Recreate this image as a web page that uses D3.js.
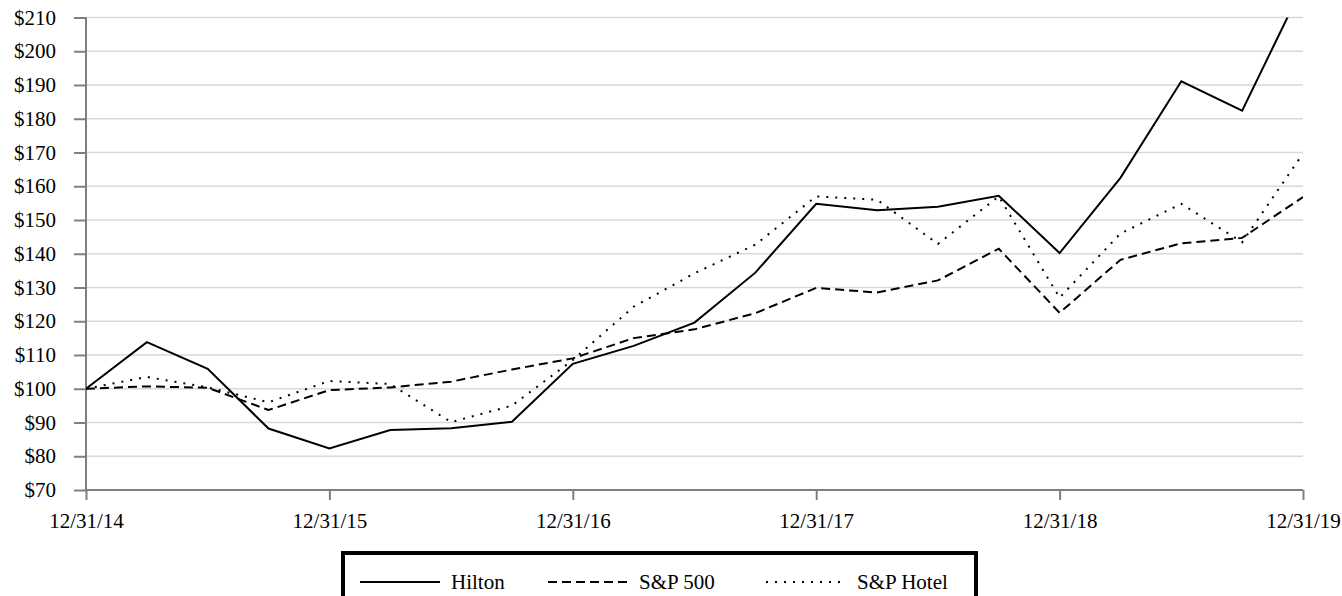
<!DOCTYPE html>
<html>
<head>
<meta charset="utf-8">
<script src="https://cdn.jsdelivr.net/npm/d3@7"></script>
<style>
  body { margin: 0; background: #fff; }
  text { font-family: "Liberation Serif", "Times New Roman", serif; font-size: 21px; fill: #000; }
</style>
</head>
<body>
<svg id="chart" width="1342" height="596"></svg>
<script>
// quarter-end points, year-end labels only
var yearLabels = ["12/31/14", "12/31/15", "12/31/16", "12/31/17", "12/31/18", "12/31/19"];
var yTicks = [70, 80, 90, 100, 110, 120, 130, 140, 150, 160, 170, 180, 190, 200, 210];
var seriesNames = ["Hilton", "S&P 500", "S&P Hotel"];
var hilton = [100, 113.8, 105.9, 88.2, 82.3, 87.8, 88.3, 90.2, 107.4, 112.7, 119.6, 134.4, 154.8, 152.9, 153.9, 157.2, 140.2, 162.5, 191.1, 182.4, 219.5];
var sp500 = [100, 100.7, 100.3, 93.7, 99.6, 100.4, 102.1, 105.7, 109.0, 115.0, 117.6, 122.4, 129.9, 128.5, 132.1, 141.5, 122.5, 138.2, 143.1, 144.7, 156.8];
var spHotel = [100, 103.5, 100.4, 96.0, 102.3, 101.4, 90.1, 95.0, 108.5, 124.3, 134.2, 142.7, 157.0, 156.0, 142.9, 157.0, 127.0, 146.0, 154.8, 143.4, 169.7];

var margin = {left: 86, top: 17.5, right: 39, bottom: 106};
var svg = d3.select('#chart');
var width = 1342 - margin.left - margin.right;
var height = 596 - margin.top - margin.bottom;

var x = d3.scaleLinear().domain([0, hilton.length - 1]).range([0, width]);
var y = d3.scaleLinear().domain([70, 210]).range([height, 0]);

var g = svg.append('g').attr('transform', 'translate(' + margin.left + ',' + margin.top + ')');

g.append('clipPath').attr('id', 'plot')
  .append('rect').attr('x', 0).attr('y', 0).attr('width', width).attr('height', height);

// gridlines
g.selectAll('.grid')
    .data(yTicks.filter(function(d) { return d > 70; })).enter()
  .append('line')
    .attr('x1', 0).attr('x2', width)
    .attr('y1', y).attr('y2', y)
    .attr('stroke', '#d9d9d9').attr('stroke-width', 1.5);

// y axis
var yAxis = g.append('g')
    .call(d3.axisLeft(y).tickValues(yTicks).tickSize(12).tickPadding(18)
      .tickFormat(function(d) { return '$' + d; }));
// x axis
var xAxis = g.append('g')
    .attr('transform', 'translate(0,' + height + ')')
    .call(d3.axisBottom(x).tickValues(d3.range(0, hilton.length, 4)).tickSize(10).tickPadding(13)
      .tickFormat(function(d, i) { return yearLabels[i]; }));

[yAxis, xAxis].forEach(function(a) {
  a.select('.domain').attr('stroke', '#7f7f7f').attr('stroke-width', 2);
  a.selectAll('.tick line').attr('stroke', '#7f7f7f').attr('stroke-width', 2);
  a.selectAll('text').attr('font-family', null).attr('font-size', null);
});
yAxis.select('.domain').attr('d', 'M0,' + height + 'V0');
xAxis.select('.domain').attr('d', 'M0,0H' + width);

var dashes = [null, '9,5', '2,7'];
var line = d3.line()
  .x(function(d, i) { return x(i); })
  .y(function(d) { return y(d); });

g.append('g').attr('clip-path', 'url(#plot)')
    .selectAll('path')
    .data([hilton, sp500, spHotel]).enter()
  .append('path')
    .attr('d', line)
    .attr('fill', 'none')
    .attr('stroke', '#000')
    .attr('stroke-width', 2)
    .attr('stroke-dasharray', function(d, i) { return dashes[i]; });

// legend
var legend = svg.append('g');
legend.append('rect')
  .attr('x', 343).attr('y', 553).attr('width', 633).attr('height', 60)
  .attr('fill', 'none').attr('stroke', '#000').attr('stroke-width', 4);
var itemX = [360, 548, 766];
var items = legend.selectAll('.item')
    .data(seriesNames).enter()
  .append('g')
    .attr('transform', function(d, i) { return 'translate(' + itemX[i] + ',582)'; });
items.append('line')
  .attr('x1', 0).attr('x2', 80)
  .attr('stroke', '#000').attr('stroke-width', 2)
  .attr('stroke-dasharray', function(d, i) { return dashes[i]; });
items.append('text')
  .attr('x', 91).attr('dy', '0.35em')
  .text(function(d) { return d; });
</script>
</body>
</html>
